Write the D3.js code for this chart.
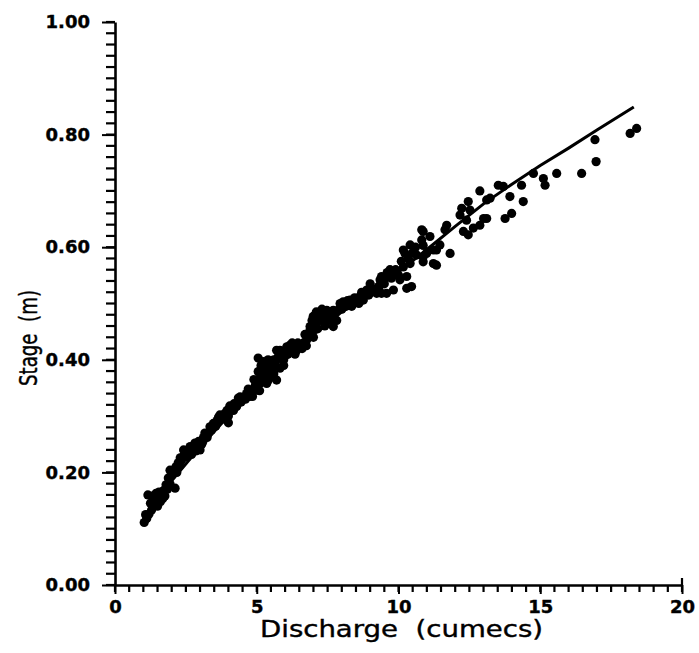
<!DOCTYPE html>
<html>
<head>
<meta charset="utf-8">
<script src="https://cdn.jsdelivr.net/npm/d3@7"></script>
<style>
  body { margin: 0; background: #fff; }
  svg { display: block; }
</style>
</head>
<body>
<div id="chart"></div>
<script>
// observed gaugings: discharge (cumecs) and stage (m)
var qObs = [1.03,1.12,1.20,1.29,1.36,1.50,1.16,1.30,1.45,1.52,1.60,1.68,1.76,1.65,1.85,1.94,2.12,1.94,2.06,2.12,
  2.15,2.23,2.30,2.35,2.47,2.55,2.65,2.70,2.82,2.90,3.00,3.06,3.12,3.17,3.25,3.35,3.47,3.60,3.70,3.76,
  3.88,4.00,4.00,4.12,4.20,4.29,4.35,4.41,4.53,4.64,4.75,4.88,5.00,5.00,5.05,5.11,5.15,5.23,5.23,5.05,
  5.35,5.35,5.41,5.45,5.53,5.60,5.70,5.70,5.70,5.82,5.82,5.95,6.06,6.17,6.30,6.41,6.53,6.65,6.76,6.80,
  6.88,6.88,6.95,6.99,7.10,7.10,7.23,7.23,7.35,7.47,7.47,7.60,7.70,7.70,7.82,7.94,8.05,8.15,8.29,8.40,
  8.52,8.64,8.76,8.88,9.05,9.23,9.35,9.35,9.40,9.40,9.58,9.58,9.70,9.70,9.82,9.82,10.05,10.17,10.23,10.29,
  10.29,10.46,10.17,10.41,10.41,10.64,10.82,10.82,10.87,10.87,10.87,10.87,10.99,11.11,11.23,11.23,11.34,11.34,11.46,11.64,
  11.70,11.82,12.17,12.23,12.29,12.40,12.46,12.46,12.52,12.64,12.87,12.87,13.00,13.11,13.11,13.23,13.52,13.70,13.93,13.99,
  13.76,14.34,14.40,14.76,15.11,15.17,15.58,16.46,16.93,16.97,18.17,18.40,
  1.08,1.25,1.40,1.55,1.72,1.80,1.88,2.00,2.18,2.28,2.40,2.42,2.58,2.75,2.85,2.95,3.10,3.30,3.40,3.55,
  3.65,3.85,3.95,4.05,4.18,4.45,4.60,4.70,4.85,4.95,4.90,5.10,5.15,5.25,5.30,5.40,5.50,5.60,5.65,5.75,
  5.90,5.95,6.00,6.10,6.25,6.35,6.45,6.60,6.70,6.75,6.95,7.00,7.05,7.15,7.30,7.40,7.55,7.65,7.80,7.90,
  8.00,8.20,8.35,8.45,8.60,8.70,8.95,9.00,9.15,9.30,9.50,9.60,9.75,9.90,10.00,10.10,10.35,10.50,10.60];
var hObs = [0.111,0.118,0.126,0.133,0.143,0.140,0.160,0.158,0.163,0.155,0.148,0.153,0.158,0.165,0.170,0.180,0.172,0.204,0.199,0.204,
  0.210,0.217,0.226,0.222,0.234,0.228,0.246,0.232,0.252,0.245,0.240,0.250,0.262,0.270,0.262,0.281,0.287,0.292,0.302,0.300,
  0.305,0.288,0.300,0.311,0.322,0.317,0.332,0.334,0.332,0.340,0.335,0.346,0.346,0.360,0.379,0.358,0.390,0.370,0.397,0.403,
  0.394,0.358,0.364,0.380,0.370,0.400,0.400,0.417,0.364,0.417,0.385,0.400,0.423,0.426,0.420,0.417,0.423,0.430,0.435,0.445,
  0.453,0.459,0.470,0.477,0.465,0.485,0.483,0.470,0.478,0.471,0.488,0.480,0.488,0.459,0.470,0.500,0.503,0.495,0.506,0.500,
  0.509,0.512,0.506,0.524,0.527,0.518,0.542,0.533,0.518,0.548,0.548,0.518,0.553,0.560,0.524,0.553,0.542,0.565,0.589,0.527,
  0.548,0.530,0.595,0.604,0.571,0.586,0.613,0.631,0.628,0.603,0.583,0.574,0.589,0.619,0.595,0.571,0.595,0.568,0.604,0.631,
  0.639,0.589,0.657,0.669,0.628,0.648,0.681,0.622,0.666,0.634,0.639,0.700,0.651,0.651,0.684,0.687,0.710,0.708,0.690,0.660,
  0.651,0.710,0.681,0.731,0.722,0.710,0.731,0.731,0.791,0.752,0.802,0.811,
  0.125,0.145,0.152,0.165,0.168,0.178,0.190,0.195,0.200,0.212,0.228,0.240,0.240,0.245,0.238,0.255,0.255,0.270,0.275,0.282,
  0.298,0.295,0.310,0.318,0.310,0.325,0.330,0.348,0.335,0.355,0.365,0.345,0.370,0.385,0.375,0.400,0.390,0.375,0.390,0.405,
  0.415,0.390,0.410,0.410,0.430,0.410,0.430,0.420,0.445,0.425,0.455,0.440,0.475,0.455,0.490,0.460,0.470,0.475,0.485,0.490,
  0.490,0.505,0.495,0.510,0.500,0.520,0.515,0.535,0.525,0.530,0.535,0.555,0.545,0.560,0.550,0.575,0.580,0.590,0.600];

// fitted rating curve
var qFit = [1.0, 2, 3, 4, 5, 6, 7, 8, 9, 10, 11, 12, 13, 14, 15, 16, 17, 18.3];
var hFit = [0.11, 0.185, 0.245, 0.30, 0.35, 0.40, 0.445, 0.485, 0.52, 0.556, 0.596, 0.637, 0.677, 0.712, 0.745, 0.776, 0.808, 0.849];

var xTicks = [0, 5, 10, 15, 20];
var yTicks = [0, 0.2, 0.4, 0.6, 0.8, 1.0];

var W = 699, H = 653;

var svg = d3.select("#chart").append("svg")
  .attr("width", W)
  .attr("height", H)
  .style("background", "#fff");

var x = d3.scaleLinear().domain([0, 20]).range([115, 682]);
var y = d3.scaleLinear().domain([0, 1]).range([585, 22]);

// major ticks + labels
svg.append("g")
  .attr("class", "axis")
  .attr("transform", "translate(0,585)")
  .call(d3.axisBottom(x).tickValues(xTicks).tickSize(9).tickPadding(6).tickSizeOuter(0)
    .tickFormat(d3.format("d")));
svg.append("g")
  .attr("class", "axis")
  .attr("transform", "translate(115,0)")
  .call(d3.axisLeft(y).tickValues(yTicks).tickSize(13).tickPadding(12).tickSizeOuter(0)
    .tickFormat(d3.format(".2f")));

svg.selectAll(".axis .tick line").attr("stroke", "#000").attr("stroke-width", 2);
svg.selectAll(".axis .domain").attr("stroke", "#000").attr("stroke-width", 2.6);
svg.selectAll(".axis .tick text")
  .attr("fill", "#000")
  .attr("stroke", "#000")
  .attr("stroke-width", 0.4)
  .style("font-family", "DejaVu Sans, sans-serif")
  .style("font-weight", "bold")
  .style("font-size", "18px");

// minor ticks, every 0.5 cumecs and every 0.02 m
var minorX = d3.range(0, 41).map(function(i) { return i / 2; });
var minorY = d3.range(0, 51).map(function(i) { return i / 50; });

var minor = svg.append("g");
minor.selectAll("line.mx")
  .data(minorX)
  .enter().append("line")
  .attr("class", "mx")
  .attr("x1", function(d) { return x(d); })
  .attr("x2", function(d) { return x(d); })
  .attr("y1", y(0))
  .attr("y2", y(0) + 7)
  .attr("stroke", "#000")
  .attr("stroke-width", 2.2);
minor.selectAll("line.my")
  .data(minorY)
  .enter().append("line")
  .attr("class", "my")
  .attr("x1", x(0))
  .attr("x2", x(0) - 9)
  .attr("y1", function(d) { return y(d); })
  .attr("y2", function(d) { return y(d); })
  .attr("stroke", "#000")
  .attr("stroke-width", 2.2);
// little upward tick at the end of the x axis
minor.append("line")
  .attr("x1", x(20)).attr("x2", x(20))
  .attr("y1", y(0)).attr("y2", y(0) - 7)
  .attr("stroke", "#000")
  .attr("stroke-width", 2.2);

// rating curve
var line = d3.line()
  .x(function(d, i) { return x(qFit[i]); })
  .y(function(d, i) { return y(hFit[i]); });

svg.append("path")
  .datum(qFit)
  .attr("d", line)
  .attr("fill", "none")
  .attr("stroke", "#000")
  .attr("stroke-width", 3);

// observations
svg.append("g")
  .selectAll("circle")
  .data(qObs)
  .enter()
  .append("circle")
  .attr("cx", function(d) { return x(d); })
  .attr("cy", function(d, i) { return y(hObs[i]); })
  .attr("r", 4.6)
  .attr("fill", "#000");

// axis titles
svg.append("text")
  .attr("x", 260)
  .attr("y", 637)
  .attr("textLength", 283)
  .attr("lengthAdjust", "spacingAndGlyphs")
  .style("white-space", "pre")
  .style("font-family", "DejaVu Sans, sans-serif")
  .style("font-size", "23px")
  .attr("stroke", "#000")
  .attr("stroke-width", 0.4)
  .text("Discharge  (cumecs)");

svg.append("text")
  .attr("transform", "translate(37,338) rotate(-90)")
  .attr("text-anchor", "middle")
  .attr("textLength", 96)
  .attr("lengthAdjust", "spacingAndGlyphs")
  .style("white-space", "pre")
  .style("font-family", "DejaVu Sans, sans-serif")
  .style("font-size", "24px")
  .attr("stroke", "#000")
  .attr("stroke-width", 0.4)
  .text("Stage  (m)");
</script>
</body>
</html>
